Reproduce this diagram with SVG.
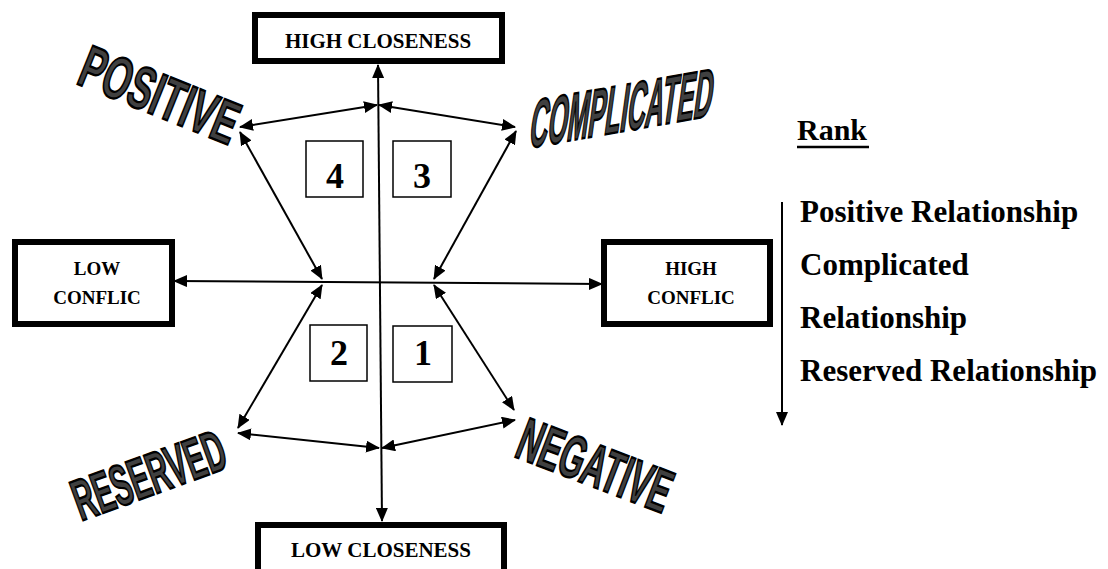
<svg xmlns="http://www.w3.org/2000/svg" width="1108" height="569" viewBox="0 0 1108 569">
<style>
.lbl{fill:none;stroke:#000;stroke-width:6}
.num{fill:#fff;stroke:#000;stroke-width:1.5}
.t{font-family:"Liberation Serif","Times New Roman",serif;font-weight:bold;fill:#000}
.wa{font-family:"Liberation Sans",Arial,sans-serif;font-weight:bold;fill:#404040;stroke:#000;stroke-width:2.4}
.c{fill:none;stroke:#000;stroke-width:2}
</style>
<defs>
<marker id="ah" viewBox="0 0 14 12" refX="13" refY="6" markerWidth="14" markerHeight="12" markerUnits="userSpaceOnUse" orient="auto-start-reverse"><path d="M0,0 L14,6 L0,12 z" fill="#000"/></marker>
</defs>
<rect width="1108" height="569" fill="#fff"/>

<g id="high-closeness"><rect class="lbl" x="255" y="15" width="247" height="46"/><text class="t" x="378" y="48" font-size="21" text-anchor="middle">HIGH CLOSENESS</text></g>
<g id="low-closeness"><rect class="lbl" x="258" y="525" width="246" height="60"/><text class="t" x="381" y="557" font-size="21" text-anchor="middle">LOW CLOSENESS</text></g>
<g id="low-conflic"><rect class="lbl" x="15" y="242" width="157" height="82"/><text class="t" x="97" y="275" font-size="19" text-anchor="middle">LOW</text><text class="t" x="97" y="304" font-size="19" text-anchor="middle">CONFLIC</text></g>
<g id="high-conflic"><rect class="lbl" x="604" y="242" width="166" height="82"/><text class="t" x="691" y="275" font-size="19" text-anchor="middle">HIGH</text><text class="t" x="691" y="304" font-size="19" text-anchor="middle">CONFLIC</text></g>

<g id="q4"><rect class="num" x="306" y="141" width="57" height="56"/><text class="t" x="335" y="188" font-size="36" text-anchor="middle">4</text></g>
<g id="q3"><rect class="num" x="393" y="141" width="58" height="56"/><text class="t" x="422" y="188" font-size="36" text-anchor="middle">3</text></g>
<g id="q2"><rect class="num" x="310" y="325" width="57" height="56"/><text class="t" x="339" y="365" font-size="36" text-anchor="middle">2</text></g>
<g id="q1"><rect class="num" x="393" y="326" width="59" height="56"/><text class="t" x="423" y="365" font-size="36" text-anchor="middle">1</text></g>

<g id="positive"><text class="wa" font-size="60" transform="translate(75,83) rotate(22) scale(0.6,1)">POSITIVE</text></g>
<g id="complicated"><text class="wa" font-size="67" transform="translate(528,148) skewY(-10) skewX(-8) scale(0.375,1)">COMPLICATED</text></g>
<g id="reserved"><text class="wa" font-size="58" transform="translate(81,521) rotate(-20) scale(0.5,1)">RESERVED</text></g>
<g id="negative"><text class="wa" font-size="60" transform="translate(513,456) rotate(21) scale(0.53,1)">NEGATIVE</text></g>

<g id="rank">
<text class="t" x="797" y="140" font-size="30">Rank</text>
<line x1="797" y1="147" x2="869" y2="147" stroke="#000" stroke-width="2.5"/>
<text class="t" x="800" y="222" font-size="31">Positive Relationship</text>
<text class="t" x="800" y="275" font-size="31">Complicated</text>
<text class="t" x="800" y="328" font-size="31">Relationship</text>
<text class="t" x="800" y="381" font-size="31">Reserved Relationship</text>
</g>

<g id="connectors">
<line class="c" x1="240" y1="127" x2="377" y2="105" marker-start="url(#ah)" marker-end="url(#ah)"/>
<line class="c" x1="515" y1="127" x2="379" y2="105" marker-start="url(#ah)" marker-end="url(#ah)"/>
<line class="c" x1="240" y1="132" x2="322" y2="279" marker-start="url(#ah)" marker-end="url(#ah)"/>
<line class="c" x1="516" y1="131" x2="434" y2="279" marker-start="url(#ah)" marker-end="url(#ah)"/>
<line class="c" x1="238" y1="428" x2="322" y2="285" marker-start="url(#ah)" marker-end="url(#ah)"/>
<line class="c" x1="514" y1="410" x2="434" y2="285" marker-start="url(#ah)" marker-end="url(#ah)"/>
<line class="c" x1="238" y1="433" x2="379" y2="448" marker-start="url(#ah)" marker-end="url(#ah)"/>
<line class="c" x1="515" y1="420" x2="382" y2="448" marker-start="url(#ah)" marker-end="url(#ah)"/>
<line class="c" x1="378" y1="65" x2="382" y2="521" marker-start="url(#ah)" marker-end="url(#ah)"/>
<line class="c" x1="174" y1="281" x2="602" y2="284" marker-start="url(#ah)" marker-end="url(#ah)"/>
<line class="c" x1="782" y1="202" x2="782" y2="425" marker-end="url(#ah)"/>
</g>
</svg>
